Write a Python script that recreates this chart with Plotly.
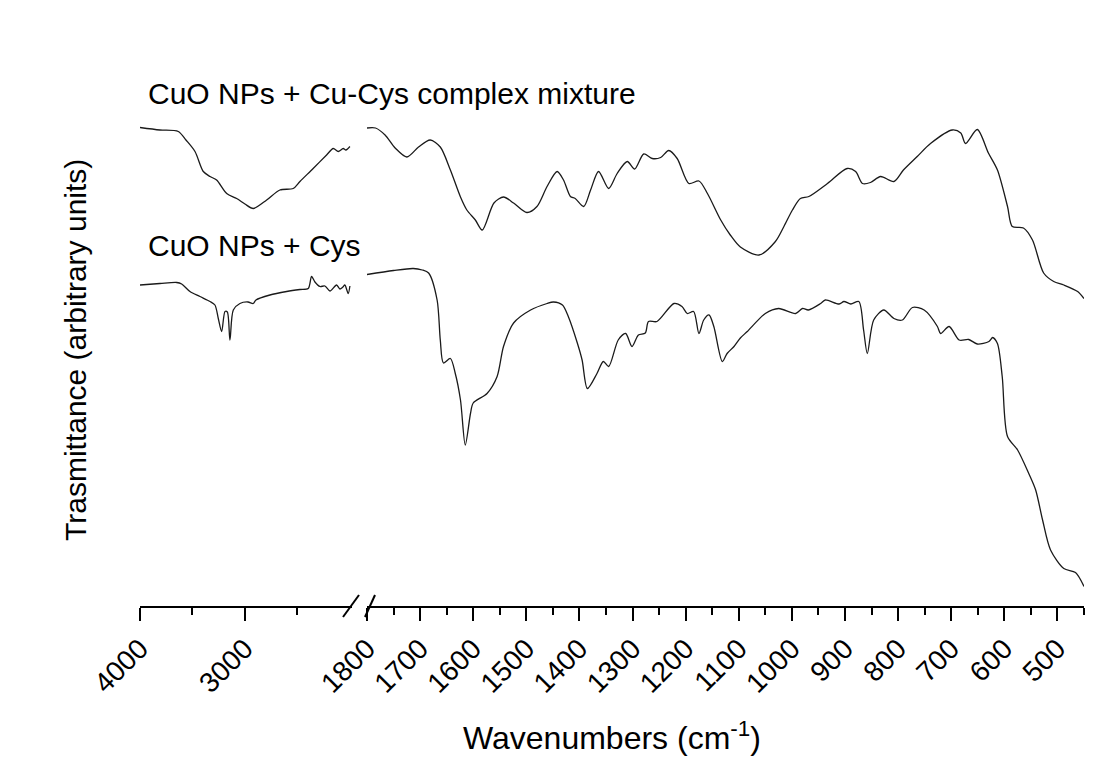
import plotly.graph_objects as go

# ---------------- data ----------------
# Wavenumbers (cm-1) and transmittance (arbitrary units)

# CuO NPs + Cu-Cys complex mixture, high-wavenumber segment (4000-2000)
mix_hi_wn = [4000, 3810, 3635, 3562, 3476, 3397, 3333, 3270, 3174, 3079, 3000, 2921,
             2793, 2667, 2540, 2476, 2350, 2222, 2159, 2111, 2064, 2038, 2000]
mix_hi_t = [98.5, 98.0, 97.7, 96.0, 93.7, 89.7, 88.7, 88.0, 85.3, 84.3, 83.2, 82.3,
            84.0, 86.0, 86.3, 87.7, 90.3, 93.0, 94.3, 93.7, 94.3, 94.0, 94.7]

# CuO NPs + Cu-Cys complex mixture, low-wavenumber segment (1800-450)
mix_lo_wn = [1800, 1784, 1766, 1747, 1725, 1703, 1681, 1662, 1643, 1624, 1612, 1596,
             1583, 1561, 1543, 1524, 1499, 1480, 1461, 1442, 1430, 1417, 1408, 1392,
             1379, 1364, 1345, 1329, 1310, 1296, 1279, 1263, 1247, 1232, 1216, 1194,
             1175, 1159, 1134, 1116, 1097, 1062, 1031, 1015, 999, 984, 968, 933,
             896, 880, 867, 852, 833, 808, 790, 764, 739, 698, 682, 673,
             651, 630, 613, 594, 585, 564, 547, 526, 507, 488, 462, 450]
mix_lo_t = [98.4, 98.4, 97.0, 94.4, 92.6, 94.6, 96.0, 94.6, 90.0, 84.6, 82.0, 80.0,
            78.0, 83.4, 84.6, 83.4, 81.5, 82.7, 86.7, 89.7, 88.0, 84.7, 84.3, 82.7,
            86.0, 89.7, 86.3, 89.3, 91.7, 90.2, 93.2, 92.3, 92.5, 93.9, 92.3, 87.3,
            87.8, 85.3, 80.0, 77.0, 74.6, 73.0, 75.7, 78.7, 82.0, 84.3, 84.7, 87.3,
            90.3, 89.7, 87.3, 87.5, 88.7, 87.7, 90.0, 92.7, 95.3, 98.0, 97.4, 95.3,
            98.1, 93.4, 90.0, 82.7, 78.7, 78.4, 76.0, 69.4, 67.7, 67.0, 65.7, 64.3]

# CuO NPs + Cys, high-wavenumber segment (4000-2000)
cys_hi_wn = [4000, 3810, 3650, 3603, 3524, 3429, 3333, 3286, 3254, 3222, 3190, 3168,
             3143, 3111, 3048, 2971, 2921, 2895, 2762, 2603, 2476, 2397, 2365, 2333,
             2286, 2238, 2190, 2127, 2095, 2067, 2048, 2016, 2000]
cys_hi_t = [67.0, 67.3, 67.5, 67.2, 65.7, 64.7, 63.7, 63.0, 60.3, 57.7, 61.7, 61.6,
            56.0, 62.0, 63.3, 63.6, 63.3, 64.0, 65.0, 65.7, 66.1, 66.3, 68.7, 67.6,
            66.7, 66.8, 65.8, 67.0, 66.2, 66.6, 67.0, 65.3, 66.8]

# CuO NPs + Cys, low-wavenumber segment (1800-450)
cys_lo_wn = [1800, 1750, 1713, 1696, 1684, 1668, 1662, 1656, 1643, 1634, 1624, 1615,
             1605, 1600, 1574, 1555, 1543, 1524, 1492, 1461, 1449, 1432, 1421, 1404,
             1395, 1385, 1367, 1355, 1345, 1327, 1313, 1301, 1289, 1276, 1270, 1254,
             1222, 1207, 1197, 1185, 1175, 1166, 1156, 1147, 1131, 1122, 1109, 1097,
             1084, 1050, 1025, 993, 980, 969, 946, 937, 911, 902, 889, 874,
             865, 858, 846, 827, 808, 792, 773, 751, 726, 720, 704, 685,
             667, 651, 629, 622, 613, 604, 594, 575, 554, 541, 528, 513,
             488, 466, 450]
cys_lo_t = [69.1, 69.9, 70.3, 70.0, 69.4, 64.0, 56.0, 51.4, 52.3, 49.4, 44.0, 35.0,
            41.4, 43.4, 45.3, 48.7, 54.7, 59.4, 62.0, 63.3, 63.6, 63.0, 60.7, 55.4,
            52.0, 46.3, 49.3, 51.7, 50.7, 56.0, 57.3, 54.7, 57.0, 57.4, 59.7, 59.7,
            63.3, 62.7, 61.3, 61.7, 57.3, 60.0, 61.0, 58.7, 51.7, 53.3, 54.7, 56.4,
            57.7, 61.3, 62.3, 61.3, 62.3, 62.0, 63.3, 64.0, 63.2, 63.7, 63.2, 63.7,
            58.0, 53.3, 60.0, 62.0, 60.3, 60.0, 62.5, 62.0, 58.7, 57.3, 58.7, 56.0,
            56.1, 55.2, 55.7, 56.5, 55.3, 48.7, 36.7, 34.0, 29.3, 26.0, 20.0, 14.0,
            10.3, 9.5, 6.7]

# tick values / labels
hi_tickvals = [4000, 3000]
hi_minorvals = [3500, 2500]
lo_tickvals = [1800, 1700, 1600, 1500, 1400, 1300, 1200, 1100, 1000, 900, 800, 700, 600, 500]
lo_minorvals = [1750, 1650, 1550, 1450, 1350, 1250, 1150, 1050, 950, 850, 750, 650, 550, 450]

label_mix = "CuO NPs + Cu-Cys complex mixture"
label_cys = "CuO NPs + Cys"
x_title = "Wavenumbers (cm<sup>-1</sup>)"
y_title = "Trasmittance (arbitrary units)"

# ---------------- layout constants (pixels) ----------------
W, H = 1112, 782
FONT = "Arial, 'Liberation Sans', sans-serif"
LINE = "#1a1a1a"


def px(x):
    return x / W


def py(y):
    return 1 - y / H


fig = go.Figure()
line = dict(color=LINE, width=1.3, shape="spline", smoothing=0.8)
fig.add_trace(go.Scatter(x=mix_hi_wn, y=mix_hi_t, mode="lines", line=line, xaxis="x", yaxis="y"))
fig.add_trace(go.Scatter(x=cys_hi_wn, y=cys_hi_t, mode="lines", line=line, xaxis="x", yaxis="y"))
fig.add_trace(go.Scatter(x=mix_lo_wn, y=mix_lo_t, mode="lines", line=line, xaxis="x2", yaxis="y"))
fig.add_trace(go.Scatter(x=cys_lo_wn, y=cys_lo_t, mode="lines", line=line, xaxis="x2", yaxis="y"))

axis_common = dict(
    showline=True, linecolor="black", linewidth=2,
    ticks="outside", ticklen=13, tickwidth=2, tickcolor="black",
    showgrid=False, zeroline=False, tickangle=-45,
    tickfont=dict(family=FONT, size=28, color="black"),
    anchor="y", automargin=False,
)

fig.update_layout(
    width=W, height=H,
    margin=dict(l=0, r=0, t=0, b=0, pad=0, autoexpand=False),
    paper_bgcolor="white", plot_bgcolor="white",
    showlegend=False,
    xaxis=dict(domain=[px(140), px(352)], range=[4000, 1980],
               tickmode="array", tickvals=hi_tickvals,
               minor=dict(tickvals=hi_minorvals, ticks="outside", ticklen=7,
                          tickwidth=2, tickcolor="black"),
               **axis_common),
    xaxis2=dict(domain=[px(367), px(1084)], range=[1800, 450],
                tickmode="array", tickvals=lo_tickvals,
                minor=dict(tickvals=lo_minorvals, ticks="outside", ticklen=7,
                           tickwidth=2, tickcolor="black"),
                **axis_common),
    yaxis=dict(domain=[py(606), 1], range=[2.8, 124], visible=False, automargin=False),
)

# axis-break slashes
for x0, x1 in [(343, 359), (365, 375)]:
    fig.add_shape(type="line", xref="paper", yref="paper",
                  x0=px(x0), y0=py(617), x1=px(x1), y1=py(595),
                  line=dict(color="black", width=2))

ann_font = dict(family=FONT, size=30, color="black")
fig.add_annotation(text=label_mix, xref="paper", yref="paper", x=px(146), y=py(94),
                   xanchor="left", yanchor="middle", showarrow=False, font=ann_font)
fig.add_annotation(text=label_cys, xref="paper", yref="paper", x=px(146), y=py(245),
                   xanchor="left", yanchor="middle", showarrow=False, font=ann_font)
fig.add_annotation(text=x_title, xref="paper", yref="paper", x=px(612), y=py(736),
                   xanchor="center", yanchor="middle", showarrow=False,
                   font=dict(family=FONT, size=32, color="black"))
fig.add_annotation(text=y_title, xref="paper", yref="paper", x=px(75), y=py(350),
                   xanchor="center", yanchor="middle", showarrow=False, font=ann_font,
                   textangle=-90)

fig.write_html("out.html", config={"displayModeBar": False},
               post_script="document.body.style.margin='0';")
